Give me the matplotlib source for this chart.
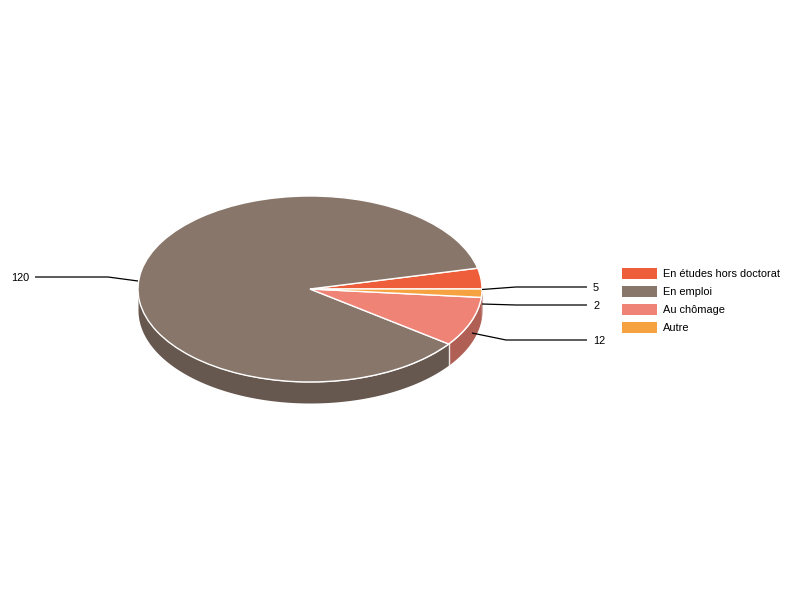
import numpy as np
import matplotlib
matplotlib.use("Agg")
import matplotlib.pyplot as plt
from matplotlib.patches import Rectangle

categories = ["En études hors doctorat", "En emploi", "Au chômage", "Autre"]
values = [5, 120, 12, 2]
colors = ["#EE5E3A", "#88766A", "#EF8375", "#F7A241"]
side_colors = ["#B04A30", "#66584F", "#B05F55", "#B05F55"]

plt.rcParams["font.family"] = ["Liberation Sans", "DejaVu Sans"]
W, H = 800, 600
CX, CY, RX, RY, DEPTH = 310, 289, 172, 93, 21
FS = 7.95

fig = plt.figure(figsize=(8, 6), dpi=100, facecolor="white")
ax = fig.add_axes([0, 0, 1, 1])

# side wall, from the same values as the top
edges = np.cumsum([0] + values) / sum(values) * 360
d = DEPTH / RY
for i in range(len(values)):
    a0, a1 = edges[i], edges[i + 1]
    lo, hi = max(a0, 180), min(a1, 360)
    if lo >= hi:
        continue
    t = np.radians(np.linspace(lo, hi, 200))
    x = np.cos(t)
    ax.fill_between(x, np.sin(t), np.sin(t) - d, color=side_colors[i], lw=0, zorder=1)
# divider on the wall between the two large front slices
a = np.radians(edges[2])
ax.plot([np.cos(a)] * 2, [np.sin(a), np.sin(a) - d], color="#EFEAE6", lw=1, zorder=1.5)

ax.pie(values, colors=colors, startangle=0, counterclock=True, radius=1, center=(0, 0),
       wedgeprops=dict(edgecolor="white", linewidth=1, zorder=2), frame=False)
ax.set_aspect("auto")
ax.set_xlim((0 - CX) / RX, (W - CX) / RX)
ax.set_ylim((CY - H) / RY, CY / RY)
ax.axis("off")

px = lambda x, y: ((x - CX) / RX, (CY - y) / RY)

# callouts: anchor, elbow, end (pixels) and label position
callouts = [
    (values[0], [(482, 289.5), (516, 287), (587, 287)], (593, 288)),
    (values[3], [(482, 304), (516, 305), (587, 305)], (593, 306)),
    (values[2], [(472, 333), (506, 340), (587, 340)], (593, 340.5)),
]
for val, pts, (lx, ly) in callouts:
    xs, ys = zip(*[px(*p) for p in pts])
    ax.plot(xs, ys, color="black", lw=0.9, zorder=3, solid_capstyle="butt")
    ax.text(*px(lx, ly), str(val), fontsize=FS, ha="left", va="center", color="black")
xs, ys = zip(*[px(*p) for p in [(138, 281), (108, 277), (35, 277)]])
ax.plot(xs, ys, color="black", lw=0.9, zorder=3, solid_capstyle="butt")
ax.text(*px(11, 278), str(values[1]), fontsize=FS, ha="left", va="center", color="black")

# legend
for i, (name, c) in enumerate(zip(categories, colors)):
    y = 273 + 18 * i
    ax.add_patch(Rectangle(px(622, y + 5.5), 35 / RX, 11 / RY, facecolor=c, edgecolor="none", zorder=3))
    ax.text(*px(663, y + 1), name, fontsize=FS, ha="left", va="center", color="black")

fig.savefig("out.png", dpi=100)
